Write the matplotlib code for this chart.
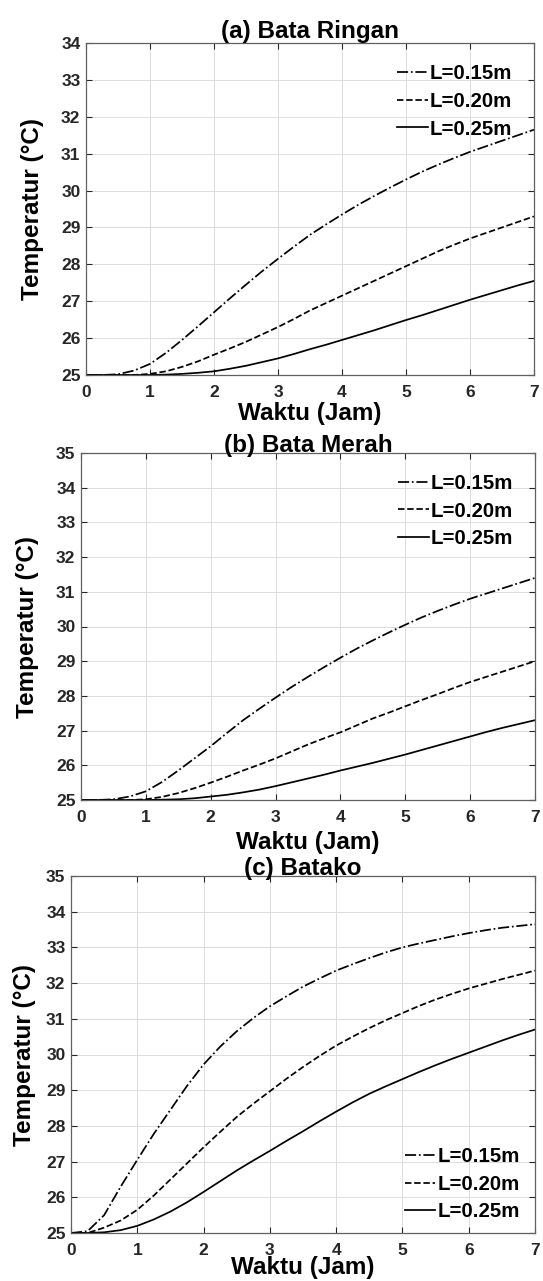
import matplotlib.pyplot as plt

plt.rcParams['font.family'] = ['Liberation Sans', 'DejaVu Sans']
plt.rcParams['font.weight'] = 'bold'

# waktu (jam), every quarter hour
jam = [0, 0.25, 0.5, 0.75, 1, 1.25, 1.5, 1.75, 2, 2.25, 2.5, 2.75, 3, 3.25, 3.5,
       3.75, 4, 4.25, 4.5, 4.75, 5, 5.25, 5.5, 5.75, 6, 6.25, 6.5, 6.75, 7]
labels = ['L=0.15m', 'L=0.20m', 'L=0.25m']

# (a) Bata Ringan
ringan_015 = [25, 25, 25.02, 25.12, 25.3, 25.6, 25.95, 26.32, 26.7, 27.08, 27.45, 27.81, 28.15, 28.48, 28.8,
              29.08, 29.35, 29.61, 29.85, 30.08, 30.3, 30.51, 30.7, 30.88, 31.05, 31.2, 31.35, 31.5, 31.65]
ringan_020 = [25, 25, 25, 25, 25.03, 25.1, 25.22, 25.37, 25.55, 25.72, 25.9, 26.1, 26.3, 26.52, 26.75,
              26.95, 27.15, 27.35, 27.55, 27.75, 27.95, 28.15, 28.35, 28.53, 28.7, 28.85, 29.0, 29.15, 29.3]
ringan_025 = [25, 25, 25, 25, 25, 25.01, 25.03, 25.06, 25.1, 25.17, 25.25, 25.35, 25.45, 25.57, 25.7,
              25.82, 25.95, 26.08, 26.21, 26.35, 26.49, 26.62, 26.76, 26.9, 27.04, 27.17, 27.3, 27.43, 27.55]

# (b) Bata Merah
merah_015 = [25, 25, 25.02, 25.1, 25.25, 25.52, 25.85, 26.2, 26.55, 26.93, 27.3, 27.63, 27.95, 28.26, 28.55,
             28.83, 29.1, 29.36, 29.6, 29.83, 30.05, 30.26, 30.45, 30.63, 30.8, 30.95, 31.1, 31.25, 31.4]
merah_020 = [25, 25, 25, 25, 25.02, 25.09, 25.2, 25.34, 25.5, 25.67, 25.85, 26.02, 26.2, 26.4, 26.6,
             26.78, 26.95, 27.15, 27.35, 27.52, 27.7, 27.88, 28.05, 28.23, 28.4, 28.55, 28.7, 28.85, 29.0]
merah_025 = [25, 25, 25, 25, 25, 25.01, 25.02, 25.05, 25.1, 25.15, 25.22, 25.3, 25.4, 25.51, 25.62,
             25.73, 25.85, 25.96, 26.07, 26.19, 26.31, 26.44, 26.57, 26.7, 26.83, 26.96, 27.08, 27.19, 27.3]

# (c) Batako
batako_015 = [25, 25.05, 25.5, 26.3, 27.05, 27.78, 28.45, 29.12, 29.72, 30.22, 30.65, 31.02, 31.35, 31.63, 31.9,
              32.13, 32.35, 32.53, 32.7, 32.86, 33.0, 33.11, 33.21, 33.31, 33.4, 33.48, 33.55, 33.6, 33.65]
batako_020 = [25, 25, 25.15, 25.35, 25.65, 26.05, 26.5, 26.95, 27.4, 27.83, 28.25, 28.62, 28.97, 29.32, 29.65,
              29.96, 30.25, 30.5, 30.74, 30.96, 31.16, 31.36, 31.54, 31.7, 31.85, 31.98, 32.11, 32.23, 32.35]
batako_025 = [25, 25, 25.02, 25.08, 25.2, 25.38, 25.6, 25.86, 26.15, 26.45, 26.75, 27.03, 27.3, 27.58, 27.85,
              28.13, 28.4, 28.66, 28.9, 29.11, 29.31, 29.51, 29.7, 29.88, 30.05, 30.22, 30.39, 30.55, 30.7]

panels = [
    ('(a) Bata Ringan', [ringan_015, ringan_020, ringan_025], 34),
    ('(b) Bata Merah', [merah_015, merah_020, merah_025], 35),
    ('(c) Batako', [batako_015, batako_020, batako_025], 35),
]

# layout in pixels: left, top, right, bottom
boxes = [(86, 43, 534, 375), (81, 453, 535, 800), (71, 876, 535, 1233)]
title_pads = [3.5, 0.5, 0.5]
xlabel_gap = [27, 31, 23]
ylabel_gap = [42, 42, 35]
legend_spots = [('upper right', (0.97, 0.96)), ('upper right', (0.97, 0.963)), ('lower right', (0.985, 0.01))]
styles = ['-.', '--', '-']

W, H = 543, 1281
fig = plt.figure(figsize=(W / 100, H / 100), dpi=100)

for i, (title, series, ymax) in enumerate(panels):
    l, t, r, b = boxes[i]
    w, h = r - l, b - t
    ax = fig.add_axes([l / W, 1 - b / H, w / W, h / H])
    for y, ls, lab in zip(series, styles, labels):
        ax.plot(jam, y, color='black', linestyle=ls, linewidth=1.25, label=lab)
    ax.set_xlim(0, 7)
    ax.set_ylim(25, ymax)
    ax.set_xticks(range(0, 8))
    ax.set_yticks(range(25, ymax + 1))
    ax.grid(True, color='#dcdcdc', linewidth=0.7)
    ax.tick_params(direction='in', top=True, right=True, length=4, width=0.8,
                   labelsize=12.5, colors='#262626')
    ax.tick_params(axis='x', pad=7)
    ax.tick_params(axis='y', pad=4)
    for lbl in ax.get_xticklabels() + ax.get_yticklabels():
        lbl.set_fontweight('bold')
    for sp in ax.spines.values():
        sp.set_color('#606060')
        sp.set_linewidth(0.9)
    ax.set_title(title, fontsize=17.5, fontweight='bold', pad=title_pads[i])
    ax.set_xlabel('Waktu (Jam)', fontsize=17.5, fontweight='bold')
    ax.xaxis.set_label_coords(0.5, -xlabel_gap[i] / h)
    ax.set_ylabel('Temperatur (°C)', fontsize=17.5, fontweight='bold')
    ax.yaxis.set_label_coords(-ylabel_gap[i] / w, 0.5)
    loc, anchor = legend_spots[i]
    ax.legend(loc=loc, bbox_to_anchor=anchor, frameon=False, handlelength=1.5,
              handletextpad=0.1, labelspacing=0.42, borderaxespad=0,
              prop={'weight': 'bold', 'size': 14.7})

plt.savefig('out.png', dpi=100)
